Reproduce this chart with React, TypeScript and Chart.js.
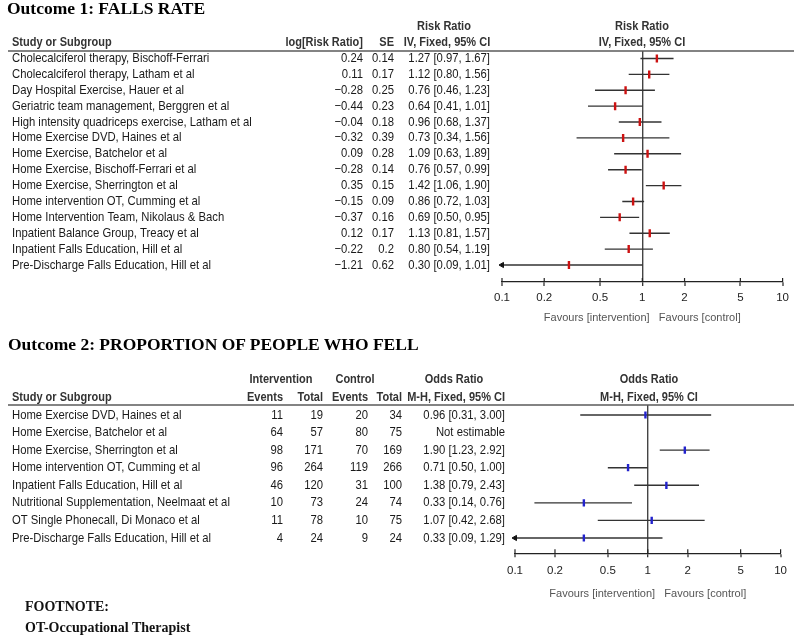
import React, { useEffect, useRef } from "react";
import { Chart, registerables } from "chart.js";

Chart.register(...registerables);

const SANS = "'Liberation Sans', Arial, Helvetica, sans-serif";
const SERIF = "'Liberation Serif', 'Times New Roman', serif";

// ---------- shared axis ----------
const axisTicks = [0.1, 0.2, 0.5, 1, 2, 5, 10];
const favoursLabel = "Favours [intervention]   Favours [control]";

// ---------- Outcome 1: FALLS RATE ----------
const studies1 = [
  "Cholecalciferol therapy, Bischoff-Ferrari",
  "Cholecalciferol therapy, Latham et al",
  "Day Hospital Exercise, Hauer et al",
  "Geriatric team management, Berggren et al",
  "High intensity quadriceps exercise, Latham et al",
  "Home Exercise DVD, Haines et al",
  "Home Exercise, Batchelor et al",
  "Home Exercise, Bischoff-Ferrari et al",
  "Home Exercise, Sherrington et al",
  "Home intervention OT, Cumming et al",
  "Home Intervention Team, Nikolaus & Bach",
  "Inpatient Balance Group, Treacy et al",
  "Inpatient Falls Education, Hill et al",
  "Pre-Discharge Falls Education, Hill et al",
];
const logRR1 = [0.24, 0.11, -0.28, -0.44, -0.04, -0.32, 0.09, -0.28, 0.35, -0.15, -0.37, 0.12, -0.22, -1.21];
const se1 = [0.14, 0.17, 0.25, 0.23, 0.18, 0.39, 0.28, 0.14, 0.15, 0.09, 0.16, 0.17, 0.2, 0.62];
const rr1 = [1.27, 1.12, 0.76, 0.64, 0.96, 0.73, 1.09, 0.76, 1.42, 0.86, 0.69, 1.13, 0.8, 0.3];
const lo1 = [0.97, 0.8, 0.46, 0.41, 0.68, 0.34, 0.63, 0.57, 1.06, 0.72, 0.5, 0.81, 0.54, 0.09];
const hi1 = [1.67, 1.56, 1.23, 1.01, 1.37, 1.56, 1.89, 0.99, 1.9, 1.03, 0.95, 1.57, 1.19, 1.01];

// ---------- Outcome 2: PROPORTION OF PEOPLE WHO FELL ----------
const studies2 = [
  "Home Exercise DVD, Haines et al",
  "Home Exercise, Batchelor et al",
  "Home Exercise, Sherrington et al",
  "Home intervention OT, Cumming et al",
  "Inpatient Falls Education, Hill et al",
  "Nutritional Supplementation, Neelmaat et al",
  "OT Single Phonecall, Di Monaco et al",
  "Pre-Discharge Falls Education, Hill et al",
];
const eventsI2 = [11, 64, 98, 96, 46, 10, 11, 4];
const totalI2 = [19, 57, 171, 264, 120, 73, 78, 24];
const eventsC2 = [20, 80, 70, 119, 31, 24, 10, 9];
const totalC2 = [34, 75, 169, 266, 100, 74, 75, 24];
const or2: (number | null)[] = [0.96, null, 1.9, 0.71, 1.38, 0.33, 1.07, 0.33];
const lo2: (number | null)[] = [0.31, null, 1.23, 0.5, 0.79, 0.14, 0.42, 0.09];
const hi2: (number | null)[] = [3.0, null, 2.92, 1.0, 2.43, 0.76, 2.68, 1.29];

// ---------- helpers ----------
const f2 = (v: number) => v.toFixed(2);
const signed = (v: number) => (v < 0 ? "\u2212" : "") + Math.abs(v).toFixed(2);
const ciText = (e: number | null, l: number | null, h: number | null) =>
  e == null || l == null || h == null ? "Not estimable" : `${f2(e)} [${f2(l)}, ${f2(h)}]`;

type Align = "left" | "right" | "center";
interface Head { text: string; x: number; y: number; align: Align }
interface Col { x: number; align: Align; texts: string[] }
interface Spec {
  width: number;
  height: number;
  padLeft: number;
  padRight: number;
  padTop: number;
  axisHeight: number;
  yMin: number;
  yMax: number;
  est: (number | null)[];
  lo: (number | null)[];
  hi: (number | null)[];
  markColor: string;
  markRadius: number;
  tickPadding: number;
  titlePadBottom: number;
  bodySize: number;
  stretch: number;
  ruleX0: number;
  headers: Head[];
  columns: Col[];
}

const spec1: Spec = {
  width: 794,
  height: 330,
  padLeft: 502,
  padRight: 11,
  padTop: 51,
  axisHeight: 48,
  yMin: -0.472,
  yMax: 14.07,
  est: rr1,
  lo: lo1,
  hi: hi1,
  markColor: "#cc1111",
  markRadius: 4,
  tickPadding: 5,
  titlePadBottom: 5.2,
  bodySize: 11.3,
  stretch: 1.13,
  ruleX0: 8,
  headers: [
    { text: "Risk Ratio", x: 444, y: 27, align: "center" },
    { text: "IV, Fixed, 95% CI", x: 447, y: 43, align: "center" },
    { text: "Risk Ratio", x: 642, y: 27, align: "center" },
    { text: "IV, Fixed, 95% CI", x: 642, y: 43, align: "center" },
    { text: "Study or Subgroup", x: 12, y: 43, align: "left" },
    { text: "log[Risk Ratio]", x: 363, y: 43, align: "right" },
    { text: "SE", x: 394, y: 43, align: "right" },
  ],
  columns: [
    { x: 12, align: "left", texts: studies1 },
    { x: 363, align: "right", texts: logRR1.map(signed) },
    { x: 394, align: "right", texts: se1.map((v) => String(v)) },
    { x: 490, align: "right", texts: rr1.map((e, i) => ciText(e, lo1[i], hi1[i])) },
  ],
};

const spec2: Spec = {
  width: 794,
  height: 280,
  padLeft: 515,
  padRight: 10,
  padTop: 75,
  axisHeight: 56.7,
  yMin: -0.569,
  yMax: 7.871,
  est: or2,
  lo: lo2,
  hi: hi2,
  markColor: "#2222cc",
  markRadius: 3.6,
  tickPadding: 7,
  titlePadBottom: 9.2,
  bodySize: 11.3,
  stretch: 1.15,
  ruleX0: 8,
  headers: [
    { text: "Intervention", x: 281, y: 49.3, align: "center" },
    { text: "Control", x: 355, y: 49.3, align: "center" },
    { text: "Odds Ratio", x: 454, y: 49.3, align: "center" },
    { text: "Odds Ratio", x: 649, y: 49.3, align: "center" },
    { text: "Study or Subgroup", x: 12, y: 67.3, align: "left" },
    { text: "Events", x: 283, y: 67.3, align: "right" },
    { text: "Total", x: 323, y: 67.3, align: "right" },
    { text: "Events", x: 368, y: 67.3, align: "right" },
    { text: "Total", x: 402, y: 67.3, align: "right" },
    { text: "M-H, Fixed, 95% CI", x: 505, y: 67.3, align: "right" },
    { text: "M-H, Fixed, 95% CI", x: 649, y: 67.3, align: "center" },
  ],
  columns: [
    { x: 12, align: "left", texts: studies2 },
    { x: 283, align: "right", texts: eventsI2.map(String) },
    { x: 323, align: "right", texts: totalI2.map(String) },
    { x: 368, align: "right", texts: eventsC2.map(String) },
    { x: 402, align: "right", texts: totalC2.map(String) },
    { x: 505, align: "right", texts: or2.map((e, i) => ciText(e, lo2[i], hi2[i])) },
  ],
};

function buildChart(canvas: HTMLCanvasElement, s: Spec): Chart {
  const xMin = axisTicks[0];
  const xMax = axisTicks[axisTicks.length - 1];
  const estData: { x: number; y: number }[] = [];
  const arrowData: { x: number; y: number }[] = [];
  const ciSets: any[] = [];
  s.est.forEach((e, i) => {
    const l = s.lo[i];
    const h = s.hi[i];
    if (e == null || l == null || h == null) return;
    estData.push({ x: e, y: i });
    if (l < xMin) arrowData.push({ x: xMin, y: i });
    ciSets.push({
      label: "ci" + i,
      data: [
        { x: Math.max(l, xMin), y: i },
        { x: Math.min(h, xMax), y: i },
      ],
      showLine: true,
      borderColor: "#333333",
      borderWidth: 1.4,
      pointRadius: 0,
      pointHoverRadius: 0,
    });
  });

  const datasets: any[] = [
    {
      label: "estimate",
      data: estData,
      showLine: false,
      pointStyle: "line",
      pointRadius: s.markRadius,
      pointHoverRadius: s.markRadius,
      pointRotation: 90,
      pointBorderWidth: 2.4,
      pointHoverBorderWidth: 2.4,
      pointBorderColor: s.markColor,
      pointBackgroundColor: s.markColor,
    },
    {
      label: "arrow",
      data: arrowData,
      showLine: false,
      pointStyle: "triangle",
      pointRadius: 3,
      pointHoverRadius: 3,
      pointRotation: -90,
      pointBorderWidth: 1,
      pointBorderColor: "#111111",
      pointBackgroundColor: "#111111",
      clip: false,
    },
    ...ciSets,
  ];

  const drawText = (ctx: CanvasRenderingContext2D, t: string, x: number, y: number) => {
    ctx.save();
    ctx.translate(x, y);
    ctx.scale(1, s.stretch);
    ctx.fillText(t, 0, 0);
    ctx.restore();
  };

  const tablePlugin = {
    id: "forestTable",
    afterDraw(chart: any) {
      const ctx: CanvasRenderingContext2D = chart.ctx;
      const { top, bottom } = chart.chartArea;
      const xs = chart.scales.x;
      const ys = chart.scales.y;
      ctx.save();
      ctx.strokeStyle = "#5a5a5a";
      ctx.lineWidth = 1.6;
      ctx.beginPath();
      ctx.moveTo(s.ruleX0, top);
      ctx.lineTo(chart.width, top);
      ctx.stroke();
      ctx.strokeStyle = "#222222";
      ctx.lineWidth = 1.2;
      xs.ticks.forEach((t: any) => {
        const px = xs.getPixelForValue(t.value);
        ctx.beginPath();
        ctx.moveTo(px, bottom - 4);
        ctx.lineTo(px, bottom);
        ctx.stroke();
      });
      ctx.textBaseline = "middle";
      ctx.fillStyle = "#333333";
      ctx.font = `bold 11px ${SANS}`;
      s.headers.forEach((h) => {
        ctx.textAlign = h.align;
        drawText(ctx, h.text, h.x, h.y);
      });
      ctx.fillStyle = "#1a1a1a";
      ctx.font = `${s.bodySize}px ${SANS}`;
      s.columns.forEach((c) => {
        ctx.textAlign = c.align;
        c.texts.forEach((t, i) => drawText(ctx, t, c.x, ys.getPixelForValue(i)));
      });
      ctx.restore();
    },
  };

  return new Chart(canvas, {
    type: "scatter",
    data: { datasets },
    plugins: [tablePlugin],
    options: {
      responsive: false,
      maintainAspectRatio: false,
      animation: false,
      devicePixelRatio: 1,
      events: [],
      layout: { padding: { left: s.padLeft, right: s.padRight, top: s.padTop, bottom: 0 } },
      plugins: { legend: { display: false }, tooltip: { enabled: false }, title: { display: false } },
      scales: {
        x: {
          type: "logarithmic",
          position: "bottom",
          min: xMin,
          max: xMax,
          afterBuildTicks: (scale: any) => {
            scale.ticks = axisTicks.map((v) => ({ value: v }));
          },
          afterFit: (scale: any) => {
            scale.height = s.axisHeight;
          },
          border: { display: true, color: "#222222", width: 1.2 },
          grid: {
            display: true,
            drawOnChartArea: true,
            drawTicks: true,
            tickLength: 4,
            tickWidth: 1.2,
            tickColor: "#222222",
            color: (c: any) => (c.tick && c.tick.value === 1 ? "#444444" : "rgba(0,0,0,0)"),
            lineWidth: (c: any) => (c.tick && c.tick.value === 1 ? 1.4 : 0),
          },
          ticks: {
            autoSkip: false,
            maxRotation: 0,
            padding: s.tickPadding,
            color: "#222222",
            font: { family: SANS, size: 11.5 },
            callback: (v: any) => String(v),
          },
          title: {
            display: true,
            text: favoursLabel,
            color: "#555555",
            font: { family: SANS, size: 11 },
            padding: { top: 0, bottom: s.titlePadBottom },
          },
        },
        y: {
          type: "linear",
          display: false,
          reverse: true,
          min: s.yMin,
          max: s.yMax,
        },
      },
    } as any,
  });
}

function ForestCanvas({ spec, top }: { spec: Spec; top: number }) {
  const ref = useRef<HTMLCanvasElement>(null);
  useEffect(() => {
    if (!ref.current) return;
    const chart = buildChart(ref.current, spec);
    return () => chart.destroy();
  }, [spec]);
  return (
    <canvas
      ref={ref}
      width={spec.width}
      height={spec.height}
      style={{ position: "absolute", left: 0, top, width: spec.width, height: spec.height, display: "block" }}
    />
  );
}

const titleStyle: React.CSSProperties = {
  position: "absolute",
  whiteSpace: "nowrap",
  font: `bold 17.5px/20px ${SERIF}`,
  color: "#000",
};
const noteStyle: React.CSSProperties = {
  position: "absolute",
  whiteSpace: "nowrap",
  font: `bold 14px/16px ${SERIF}`,
  color: "#111",
};

export default function App() {
  return (
    <div
      style={{
        position: "absolute",
        left: 0,
        top: 0,
        width: 794,
        height: 637,
        background: "#ffffff",
        overflow: "hidden",
      }}
    >
      <ForestCanvas spec={spec1} top={0} />
      <ForestCanvas spec={spec2} top={330} />
      <div style={{ ...titleStyle, left: 7, top: -2.5 }}>Outcome 1: FALLS RATE</div>
      <div style={{ ...titleStyle, left: 8, top: 334.1 }}>Outcome 2: PROPORTION OF PEOPLE WHO FELL</div>
      <div style={{ ...noteStyle, left: 25, top: 599 }}>FOOTNOTE:</div>
      <div style={{ ...noteStyle, left: 25, top: 620.3 }}>OT-Occupational Therapist</div>
    </div>
  );
}
